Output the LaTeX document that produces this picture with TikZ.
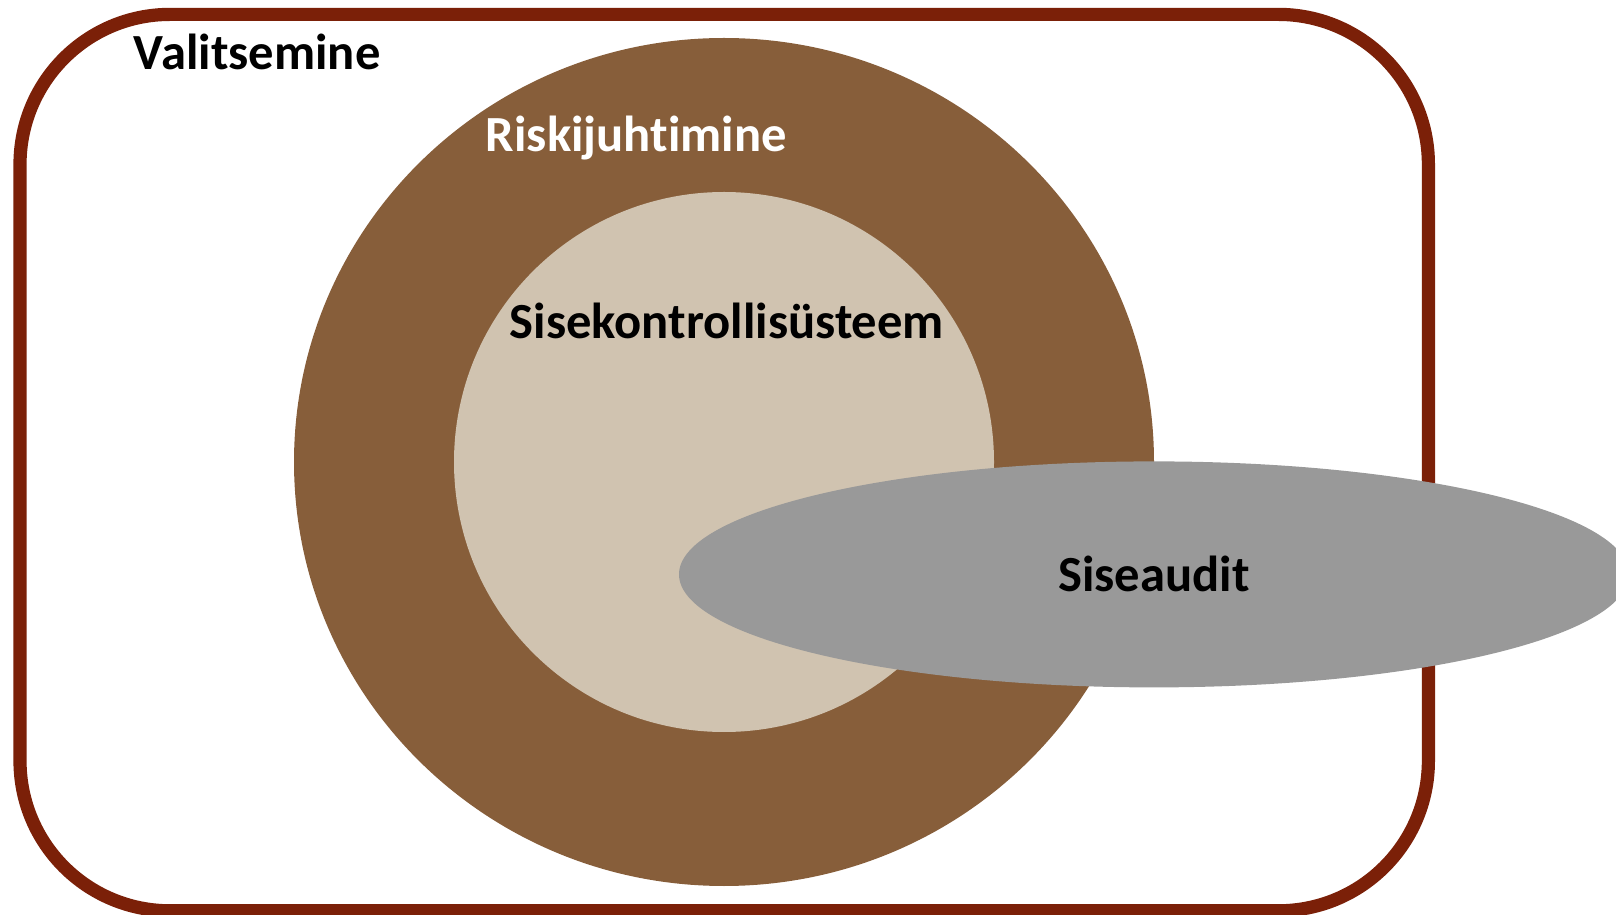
\documentclass[tikz,border=0pt]{standalone}
\usepackage{fontspec}
\setmainfont{Carlito}[Ligatures={NoCommon,NoContextual}]
\definecolor{raam}{RGB}{123,32,8}
\definecolor{pruun}{RGB}{135,94,58}
\definecolor{bees}{RGB}{208,195,176}
\definecolor{hall}{RGB}{153,153,153}
\begin{document}
\begin{tikzpicture}[
    silt/.style={anchor=base, font=\fontsize{36}{43}\selectfont\bfseries}
  ]
            \useasboundingbox (0,0) rectangle (40.4,22.85);
            \draw[raam, line width=0.33cm, rounded corners=3.75cm] (0.5,0.08) rectangle (35.71,22.49);
            \fill[pruun] (18.1,11.3) ellipse [x radius=10.75, y radius=10.6];
            \fill[bees] (18.1,11.3) circle [radius=6.75];
            \fill[hall] (28.85,8.49) ellipse [x radius=11.875, y radius=2.825];

            \node[silt] (valitsemine) at (6.43,21.12) {Valitsemine};
            \node[silt, white] (riskijuhtimine) at (15.91,19.06) {Riskijuhtimine};
            \node[silt] (sisekontroll) at (18.17,14.39) {Sisekontrollisüsteem};
            \node[silt] (siseaudit) at (28.85,8.06) {Siseaudit};
        \end{tikzpicture}
\end{document}
